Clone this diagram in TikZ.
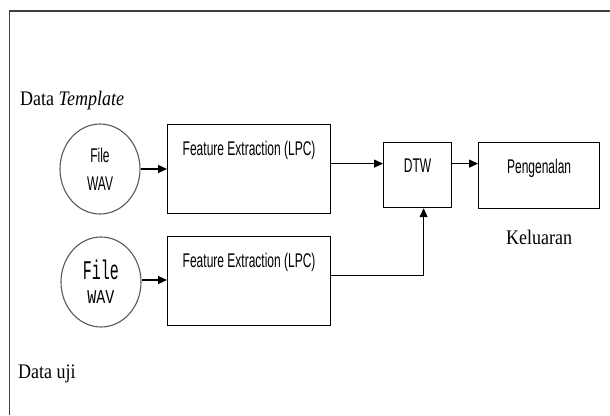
\documentclass[tikz,border=0pt]{standalone}
\usepackage{fontspec}
\usepackage{graphicx}
\setmainfont{Liberation Serif}
\newfontfamily\arialfont{Liberation Sans}
\newfontfamily\courfont{Liberation Mono}
\usetikzlibrary{arrows.meta,shapes.geometric}

% tall, narrow sans labels
\newcommand{\sanslbl}[1]{\scalebox{1}[1.65]{\arialfont\fontsize{12}{14}\selectfont #1}}
\newcommand{\monolbl}[2]{\scalebox{1}[#1]{\courfont\fontsize{15}{17}\selectfont #2}}
\newcommand{\seriflbl}[1]{\scalebox{1}[1.15]{\fontsize{18}{20}\selectfont #1}}

\tikzset{
  frame/.style={draw=black!75, line width=1.4pt},
  stagebox/.style={draw=black, line width=1.2pt, rectangle, inner sep=0pt},
  wavfile/.style={draw=black!65, line width=1.1pt, ellipse, inner sep=0pt,
                  minimum width=80pt, minimum height=90pt, align=center},
  txt/.style={inner sep=0pt, anchor=base},
  arr/.style={line width=1.2pt, -{Triangle[length=9pt,width=8pt]}},
  link/.style={line width=1.2pt}
}

\begin{document}
\begin{tikzpicture}[x=1pt, y=-1pt]
  \useasboundingbox (0,0) rectangle (610,415);
  \fill[white] (0,0) rectangle (610,415);

  % open frame: top and left edges only
  \draw[frame] (610,11) -- (9.5,11) -- (9.5,415);

  % group captions
  \node[txt, anchor=base west] (tpl) at (20,105) {\seriflbl{Data \textit{Template}}};
  \node[txt, anchor=base west] (uji) at (18,378) {\seriflbl{Data uji}};

  % input sound files
  \node[wavfile, font={\fontsize{12}{28}\selectfont}] (c1) at (100,169)
    {\sanslbl{File}\\\sanslbl{WAV}};
  \node[wavfile, font={\fontsize{12}{24}\selectfont}] (c2) at (101,282)
    {\monolbl{1.8}{File}\\\monolbl{1.3}{WAV}};

  % processing stages
  \node[stagebox, minimum width=163pt, minimum height=89pt, anchor=north west] (b1) at (167,124) {};
  \node[stagebox, minimum width=163pt, minimum height=89pt, anchor=north west] (b2) at (167,236) {};
  \node[stagebox, minimum width=68pt, minimum height=65pt, anchor=north west] (dtw) at (383,142) {};
  \node[stagebox, minimum width=121pt, minimum height=66pt, anchor=north west] (peng) at (478,142) {};

  \node[txt] (b1t) at ([yshift=-31.5pt]b1.north) {\sanslbl{Feature Extraction (LPC)}};
  \node[txt] (b2t) at ([yshift=-31.5pt]b2.north) {\sanslbl{Feature Extraction (LPC)}};
  \node[txt] (dtwt) at ([yshift=-30.5pt]dtw.north) {\sanslbl{DTW}};
  \node[txt] (pengt) at ([yshift=-31pt]peng.north) {\sanslbl{Pengenalan}};

  \node[txt] (out) at ([yshift=-35pt]peng.south) {\seriflbl{Keluaran}};

  % connectors
  \draw[arr] (c1.east) -- (c1.east -| b1.west);
  \draw[arr] ([yshift=2pt]c2.east) -- ([yshift=2pt]c2.east -| b2.west);
  \draw[arr] ([yshift=5.5pt]b1.east) -- ([yshift=5.5pt]b1.east -| dtw.west);
  \draw[arr] ([yshift=5.5pt]b2.east) -| ([xshift=6pt]dtw.south);
  \draw[arr] ([yshift=11.5pt]dtw.east) -- ([yshift=11.5pt]dtw.east -| peng.west);
\end{tikzpicture}
\end{document}
